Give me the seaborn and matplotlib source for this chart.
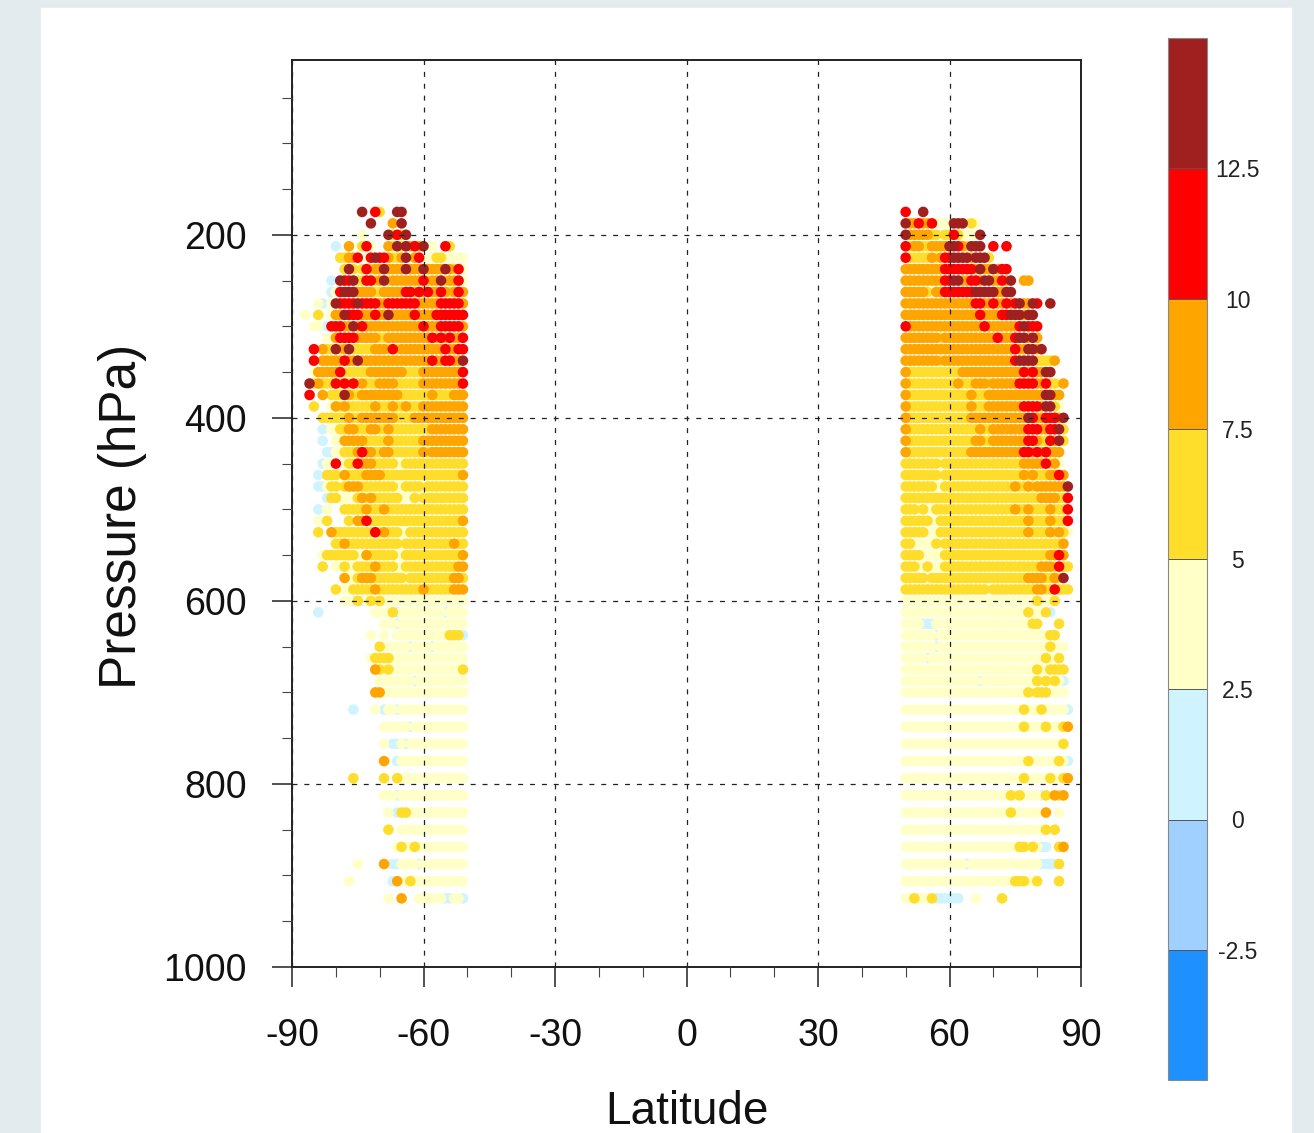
import matplotlib
matplotlib.use('Agg')
import matplotlib.pyplot as plt
from matplotlib.colors import ListedColormap, BoundaryNorm
from matplotlib.colorbar import ColorbarBase
from matplotlib.patches import Rectangle
from matplotlib.ticker import MultipleLocator
import pandas as pd
import seaborn as sns

# pressure levels (hPa)
levels = [175, 187.5, 200, 212.5, 225, 237.5, 250, 262.5, 275, 287.5, 300, 312.5,
          325, 337.5, 350, 362.5, 375, 387.5, 400, 412.5, 425, 437.5, 450, 462.5,
          475, 487.5, 500, 512.5, 525, 537.5, 550, 562.5, 575, 587.5, 600, 612.5,
          625, 637.5, 650, 662.5, 675, 687.5, 700, 718.75, 737.5, 756.25, 775,
          793.75, 812.5, 831.25, 850, 868.75, 887.5, 906.25, 925]

lat_south = list(range(-87, -50))
lat_north = list(range(50, 88))

# colour class per latitude, one row per level (spaces are only for reading)
# b 0-2.5, y 2.5-5, g 5-7.5, o 7.5-10, r 10-12.5, d >12.5, . no data
south_rows = [
    "..... ..... ...d. .rg.. .dd.. ..... ..... ..",
    "..... ..... ..... d.... o.d.. ..... ..... ..",
    "..... ..... ...y. ....d grgd. ..... ..... ..",
    "..... ..b.. o..gr y...o gdgdo rod.y ..rg. ..",
    "..... ...gg oor.y rdrro ggody oryyy ggyyy yy",
    "..... ....g dg.gr goodo ooodo oodoo oodog ry",
    "..... .b.dr rdggr rgodg ooooo oorgo odgoo ry",
    "..... .byrd ddooo oggoo ooorr ororo orogo ro",
    "...yb .ydrr rrdrr rroor rrrrr roooo orrrr ro",
    "y..g. .yood rrroo orood ooooo roooo rrrrr rr",
    "..yy. brrro odoro ooooo ooooo ooroo orrrr ro",
    "..... yyorr rrooo ooggo ooooo oooor ororo or",
    "..r.o ggdgo dgggg gooog rgooo ooooo ooroo rr",
    "..r.o oooor oodoo ooooo ooooo oooor oorro od",
    "..yoo ooorg ggggg ooooo ooogg ggooo ooooo or",
    ".dgog ggrgr grgog ggooo ogggg ggooo ooooo or",
    ".r..o .gggd oggoo ooooo ooggg ggggo ggggo oo",
    "..g.. .yogo ggggg goggg oggog ggooo ooooo oo",
    "....g ggggg oggoo ooooo ogggg ooooo ooooo oo",
    "....b .yygg ooggg ooggo ggggg ggggo ooooo oo",
    "....b ..yyo oooog ggggo ggggg ggooo ooooo oo",
    "..... bbyyg ggoro oggoo ggggg ggogo ooooo oo",
    "....b yyryy ggroo ogggg gyygg ggggg ggggg gg",
    "...b. gggyo ggggo ooogg ggggg ggggg ggggg go",
    "...bb yggyg ooogg ggggg gyygg ggygg ggggg gg",
    "..... bggyy yygog ogggg ggyyy gyggg ggggg gg",
    "...b. y...g ggggo gggog ggggg ggggg ggggg gg",
    "...y. g.... g.oor ggggg ggggg ggggg ggggg go",
    "...g. .oggg ggggg grgog ggyyg ggggg ggggg gg",
    "..... ..ggo ggggg ggggg ggygg ggggg ggggo gg",
    "....y ggggg ggyyo ggggg gyygg ggggg ggggg go",
    "....g ..yyg yyggg goggg gyygg ggggg ggggg oo",
    "..... ....o yygoo ogggg gggyg ggggg ggggo og",
    "..... ..g.y ygggg goggg ggggg ggogg ggggo oo",
    "..... ....y ybgby gygyy yyyyy yyyyy yyyyy yy",
    "...b. ..... ..... .yy.y gbyyy yyyyy yybyy yy",
    "..... ..... ..... ...yy ybyyy yyyyy yyyyy yy",
    "..... ..... ..... y..y. .yyyy yyyyy yyygg gb",
    "..... ..... ..... ..gyy yyyyb yyyyb yyyyy yy",
    "..... ..... ..... ygggg yyyyy yyyyy yyyyy yy",
    "..... ..... ..... .ogyg yyyyy yyyyy yyyyy yg",
    "..... ..... ..... ..yyy yyyyy byyyy yyyyy yy",
    "..... ..... ..... .ooyy yyyyy yyyyy yyyyy yy",
    "..... ..... .b... .y.by ybyyy yyyyy yyyyy yy",
    "..... ..... ..... ...y. yyyyb yyyyy yyyyy yy",
    "..... ..... ..... ...y. bbyby yyyyy yyyyy yy",
    "..... ..... ..... ...o. .byyy yyyyy yyyyy yy",
    "..... ..... .g... ...g. .gyyy yyyyy yyyyy yy",
    "..... ..... ..... ...yy ybyyy yyyyy yyyyy yy",
    "..... ..... ..... ....y .bggy yyyyy yyyyy yy",
    "..... ..... ..... ....g ..yyy yyyyy yyyyy yy",
    "..... ..... ..... ..... .ygyy gyyyy yyyyy yy",
    "..... ..... ..y.. ...o. bbyyy ybyyy yyyyy yy",
    "..... ..... y.... ..... bo.yg yyyyy yyyyy yy",
    "..... ..... ..... ....y ..o.. .yyyy yybby yb",
]

north_rows = [
    "r...d ..... ..... ..... ..... ..... ..... ...",
    "dooro oryyy ydddy gy... ..... ..... ..... ...",
    "doooo oggyg grgyy yyd.. ..... ..... ..... ...",
    "rgoog goooo ddrog ddd.. r..r. ..... ..... ...",
    "rgggg gogor rdddd odddg ..... ..... ..... ...",
    "ooooo oooor rrrrr rodoo dorr. ..... ..... ...",
    "ooooo oooor rddoo rrodd oorod ..oo. ..... ...",
    "ooooo gyoor rrrrr rdddd doodd ..... ..... ...",
    "ooooo ooooo ooooo orroo rooro rdood r..d. ...",
    "ooooo ooooo ooooo ooroo oorrd ddodd ..... ...",
    "roooo ooooo ooooo oooro ooooo ordrr r.... ...",
    "ooooo ooogo ooooo ooooo orooo rddod o.... ...",
    "ooooo ooooo ooooo ooooo ooooo roodd od... ...",
    "ooooo ooogo ooooo ooooo ooooo rdddd ggggo ...",
    "ogggg ggggg gggoo ooooo ooooo ooror oodd. ...",
    "ogggg ggggg ggogg gooog ooooo orrrr oorgg yo.",
    "ogggg ggggg ggggg ogggo ooooo ooooo ooddo o..",
    "ogggg ggggg ggggg ogggo ooooo oorrr roddg y..",
    "ogggg ggggg ggggg ooooo ooooo ooodr oorrr od.",
    "ogggg ggggg ggggg ggogg ooooo ooorr roorr dg.",
    "ogggg ggggg ggggg googg ooooo ooorr oggro dg.",
    "ogggg ggggg ggggg ooooo ooooo oorro roroo o..",
    "ggggg gggyg ggggg ggggg ggggg ggooo oorgo y..",
    "ggggg gggyg ggggg ggggg ggggg ggogo gggoo ro.",
    "ggggg ggyyg ggggg ggggg ggggg oggog ooooo ood",
    "ggggg ggggg ggggg ggggg ggggg ggggg goooo ggr",
    "gggyg yyggg ggggg ggggg ggggg oggog gggog ggr",
    "ggggg gyygg ggggg ggggg ggggg gggog gggog ggr",
    "ggggg yyygg ggggg ggggg ggggg gggog gggog ogy",
    "ggyyy yygyg ggggg ggggg ggggg ggggg ggggg go.",
    "ggggy yyyyg ggggg ggggg ggggg ggggg gggoo ro.",
    "gggyy gyyyg ggggg ggggg ggggg ggggg gooog rgg",
    "ggggg ygggg ggggg ggggg ggggg gggoo ooggo gd.",
    "ggggg ggggg ggggg ggggy ggggg ggggg ooggr ggg",
    "yyyyy yyyyy yyyyy yyyyy yyyyy yyyyy gyyyg ...",
    "yyyyy yyyyy yyyyy yyyyy yyyyy yyygy yygb. ...",
    "yyyyb bbyyy yyyyy yyyyy yyyyy yyyyg g.... g..",
    "yyyyy yybyy yyyyy yyyyy yyyyy yyyyy yyygg ...",
    "yyyyy yybyy yyyyy yyyyy yyyyy yyyyy yyygy yy.",
    "yyyyy byyyy yyyyy yyyyy yyyyy yyyyy yygyy g..",
    "yyyyy yyyyy yyyyy yyyyy yyyyy yyyyy gyygg gg.",
    "yyyyy yyyyy yyyyy yybyy yyyyy yyyyy gygyg yb.",
    "yyyyy yyyyy yyyyy yyyyy yyyyy yyygy gggyy yy.",
    "yyyyy yyyyy yyyyy yyyyy yyyyy yygyy ygyyy yyb",
    "yyyyy yyyyy yyyyy yyyyy yyyyy yygyy yygyy ygo",
    "yyyyy yyyyy yyyyy yyyyy yyyyy yyyyy yyyyy yg.",
    "yyyyy yyyyy yyyyy yyyyy yyyyy yyygy yyyyy gyb",
    "yyyyy yyyyy yyyyy yyyyy yyyyy yygyy yyygy ygo",
    "yyyyy yyyyy yyyyy yyyyy yyyyg ygyyy ybgyo go.",
    "yyyyy yyyyy yyyyy yyyyy yyyyg yyyyy y.o.. y..",
    "yyyyy yyyyy yyyyy yyyyy yyyyy yyyyy yyg.g ...",
    "yyyyy yyyyy yyyyy yyyyy yyyyy yggyg ybb.. go.",
    "yyyyy yyyyy yyyyb yyyyy yyyyy yyyyy ybbbb g..",
    "yyyyy yyyyy yyyyy yyyyy yyyyy gggyy g.... g..",
    "yygyy ygbbb bbb.. .y... ..g.. ..... ..... ...",
]

class_codes = ['b', 'y', 'g', 'o', 'r', 'd']
class_values = [1.25, 3.75, 6.25, 8.75, 11.25, 13.75]

bounds = [-5, -2.5, 0, 2.5, 5, 7.5, 10, 12.5, 15]
bar_ticks = [-2.5, 0, 2.5, 5, 7.5, 10, 12.5]
bar_labels = ['-2.5', '0', '2.5', '5', '7.5', '10', '12.5']
bar_colors = ['#1e90ff', '#a0d0ff', '#d0f4ff', '#ffffc8',
              '#ffdd2b', '#ffa500', '#ff0000', '#a02020']

sns.set_theme(style='white')
plt.rcParams['font.family'] = ['Liberation Sans']
plt.rcParams['axes.unicode_minus'] = False
plt.rcParams['text.color'] = '#111111'

W, H = 1314, 1133
fig = plt.figure(figsize=(W / 100, H / 100), dpi=100, facecolor='#e3ebee')
fig.add_artist(Rectangle((41 / W, 0), 1250 / W, 1 - 8 / H,
                         transform=fig.transFigure, color='white', zorder=-1))

# long table of the dots
records = []
for lats, rows in [(lat_south, south_rows), (lat_north, north_rows)]:
    for p, row in zip(levels, rows):
        for lat, c in zip(lats, row.replace(' ', '')):
            if c != '.':
                records.append((lat, p, class_values[class_codes.index(c)]))
df = pd.DataFrame(records, columns=['lat', 'pressure', 'value'])
df = df.sort_values('value', kind='stable')

ax = fig.add_axes([292 / W, 1 - 967 / H, 789 / W, 907 / H])
ax.set_facecolor('none')
sns.scatterplot(data=df, x='lat', y='pressure', hue='value',
                palette=dict(zip(class_values, bar_colors[2:])),
                s=58, linewidth=0, legend=False, ax=ax, zorder=2)

ax.set_xlim(-90, 90)
ax.set_ylim(1000, 9)
ax.set_xticks([-90, -60, -30, 0, 30, 60, 90])
ax.set_yticks([200, 400, 600, 800, 1000])
ax.xaxis.set_minor_locator(MultipleLocator(10))
ax.yaxis.set_minor_locator(MultipleLocator(50))
ax.tick_params(axis='both', which='major', direction='out', length=14.5, width=1.1,
               color='#222222', bottom=True, left=True, labelsize=27, labelcolor='#111111')
ax.tick_params(axis='both', which='minor', direction='out', length=7.5, width=0.8,
               color='#444444', bottom=True, left=True)
ax.tick_params(axis='x', which='major', pad=22)
ax.tick_params(axis='y', which='major', pad=18)
ax.grid(True, which='major', color='#222222', linestyle=(0, (4, 5.5)), linewidth=0.9, zorder=3)
ax.set_axisbelow(False)
for spine in ax.spines.values():
    spine.set_color('#222222')
    spine.set_linewidth(1.4)

ax.set_xlabel('Latitude', fontsize=33, color='#111111')
ax.set_ylabel('Pressure (hPa)', fontsize=37, color='#111111')
ax.xaxis.set_label_coords(0.5, -0.136)
ax.yaxis.set_label_coords(-0.184, 0.497)

cax = fig.add_axes([1168 / W, 1 - 1080 / H, 39 / W, 1042 / H])
cbar = ColorbarBase(cax, cmap=ListedColormap(bar_colors),
                    norm=BoundaryNorm(bounds, len(bar_colors)),
                    spacing='uniform', drawedges=True)
cbar.dividers.set_color('#555555')
cbar.dividers.set_linewidth(0.7)
cbar.outline.set_edgecolor('#888888')
cbar.outline.set_linewidth(0.8)
cbar.set_ticks(bar_ticks)
cbar.set_ticklabels(bar_labels)
cax.minorticks_off()
cax.tick_params(axis='y', length=0, pad=22, labelsize=16.5, labelcolor='#222222')
for lab in cax.get_yticklabels():
    lab.set_ha('center')

fig.savefig('out.png', dpi=100, facecolor=fig.get_facecolor())
